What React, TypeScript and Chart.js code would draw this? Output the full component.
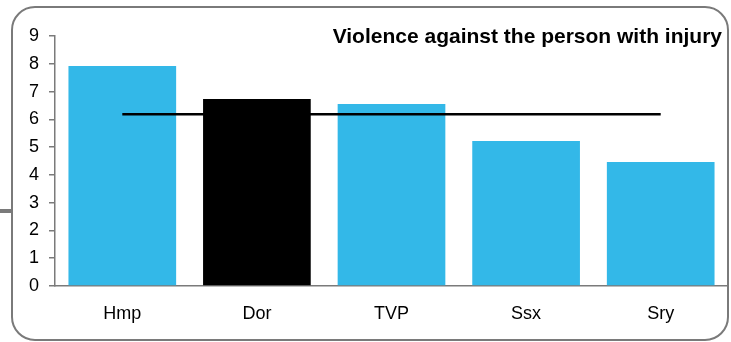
import React, { useEffect, useRef } from "react";
import { Chart, registerables } from "chart.js";

Chart.register(...registerables);

const categories = ["Hmp", "Dor", "TVP", "Ssx", "Sry"];
const rates = [7.92, 6.73, 6.55, 5.22, 4.46];
const average = [6.18, 6.18, 6.18, 6.18, 6.18];
const barColors = ["#33b8e8", "#000000", "#33b8e8", "#33b8e8", "#33b8e8"];
const titleText = "Violence against the person with injury";

const FONT = "'Liberation Sans', Arial, Helvetica, sans-serif";

const titlePlugin = {
  id: "cornerTitle",
  afterDraw(chart: any) {
    const { ctx, chartArea } = chart;
    ctx.save();
    ctx.font = `bold 21px ${FONT}`;
    ctx.fillStyle = "#000000";
    ctx.textAlign = "right";
    ctx.textBaseline = "alphabetic";
    ctx.fillText(titleText, chartArea.right - 6, chartArea.top + 7);
    ctx.restore();
  },
};

export default function App() {
  const ref = useRef<HTMLCanvasElement>(null);

  useEffect(() => {
    document.body.style.margin = "0";
    const chart = new Chart(ref.current!, {
      type: "bar",
      data: {
        labels: categories,
        datasets: [
          {
            type: "line",
            data: average,
            borderColor: "#000000",
            borderWidth: 2.5,
            pointRadius: 0,
            fill: false,
            order: 0,
          } as any,
          {
            type: "bar",
            data: rates,
            backgroundColor: barColors,
            borderWidth: 0,
            categoryPercentage: 1,
            barPercentage: 0.8,
            order: 1,
          },
        ],
      },
      options: {
        animation: false,
        responsive: false,
        maintainAspectRatio: false,
        layout: { padding: { top: 36, right: 3, left: 0, bottom: 0 } },
        plugins: {
          legend: { display: false },
          tooltip: { enabled: false },
          title: { display: false },
        },
        scales: {
          x: {
            grid: { display: false, drawTicks: false },
            border: { display: true, color: "#7a7a7a", width: 1.5 },
            ticks: {
              color: "#000000",
              font: { family: FONT, size: 18 },
              padding: 17,
            },
            afterFit(scale: any) {
              scale.height = 56;
            },
          },
          y: {
            min: 0,
            max: 9,
            ticks: {
              stepSize: 1,
              color: "#000000",
              font: { family: FONT, size: 18 },
              padding: 10,
            },
            grid: {
              drawOnChartArea: false,
              drawTicks: true,
              tickLength: 6,
              color: "#7a7a7a",
              lineWidth: 1.5,
            },
            border: { display: true, color: "#7a7a7a", width: 1.5 },
            afterFit(scale: any) {
              scale.width = 55;
            },
          },
        },
      },
      plugins: [titlePlugin],
    });
    return () => chart.destroy();
  }, []);

  return (
    <div style={{ position: "absolute", left: 0, top: 0, width: 731, height: 342, background: "#ffffff" }}>
      <div
        style={{
          position: "absolute",
          left: 11,
          top: 6,
          width: 718,
          height: 335,
          border: "2px solid #7a7a7a",
          borderRadius: 24,
          boxSizing: "border-box",
        }}
      />
      <div style={{ position: "absolute", left: 0, top: 209, width: 12, height: 4, background: "#7a7a7a" }} />
      <canvas ref={ref} width={731} height={342} style={{ position: "absolute", left: 0, top: 0 }} />
    </div>
  );
}
